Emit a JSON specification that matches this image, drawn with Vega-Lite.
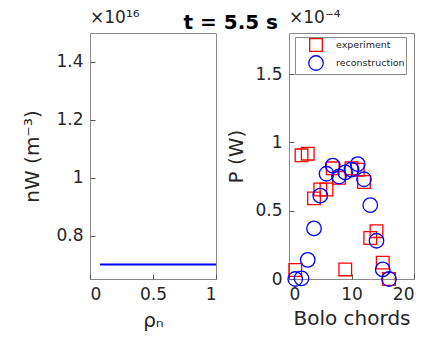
{
  "$schema": "https://vega.github.io/schema/vega-lite/v6.json",
  "background": "white",
  "padding": {"left": 22, "top": 8, "right": 2, "bottom": 5},
  "title": {"text": "t = 5.5 s", "fontSize": 20, "fontWeight": "bold", "font": "DejaVu Sans", "color": "black", "anchor": "middle", "offset": 0, "dy": 24, "dx": 12},
  "spacing": 5,
  "config": {
    "font": "DejaVu Sans",
    "view": {"stroke": "#8a8a8a", "strokeWidth": 1},
    "axis": {
      "grid": false,
      "domain": false,
      "ticks": true,
      "tickSize": -5,
      "tickColor": "#555",
      "labelFont": "DejaVu Sans",
      "labelFontSize": 17,
      "labelColor": "#262626",
      "labelPadding": 12,
      "titleFont": "DejaVu Sans",
      "titleFontSize": 20,
      "titleFontWeight": "normal",
      "titleColor": "#262626"
    },
    "title": {"font": "DejaVu Sans"}
  },
  "hconcat": [
    {
      "width": 126,
      "height": 246,
      "title": {"text": "×10¹⁶", "anchor": "start", "frame": "group", "fontSize": 17, "fontWeight": "normal", "color": "#262626", "offset": 6},
      "data": {"values": [
        {"rho": 0.08, "nW": 0.7},
        {"rho": 0.2, "nW": 0.7},
        {"rho": 0.4, "nW": 0.7},
        {"rho": 0.6, "nW": 0.7},
        {"rho": 0.8, "nW": 0.7},
        {"rho": 1.0, "nW": 0.7}
      ]},
      "mark": {"type": "line", "color": "#0000ff", "strokeWidth": 2},
      "encoding": {
        "x": {"field": "rho", "type": "quantitative", "scale": {"domain": [0, 1], "nice": false},
              "axis": {"values": [0, 0.5, 1], "format": "~g", "title": "ρₙ", "titlePadding": 8}},
        "y": {"field": "nW", "type": "quantitative", "scale": {"domain": [0.65, 1.5], "nice": false, "zero": false},
              "axis": {"values": [0.8, 1, 1.2, 1.4], "format": "~g", "title": "nW (m⁻³)", "titlePadding": 13}}
      }
    },
    {
      "width": 125,
      "height": 246,
      "title": {"text": "×10⁻⁴", "anchor": "start", "frame": "group", "fontSize": 17, "fontWeight": "normal", "color": "#262626", "offset": 6},
      "data": {"values": [
        {"chord": 1, "P": 0.066, "series": "experiment"},
        {"chord": 2, "P": 0.905, "series": "experiment"},
        {"chord": 3, "P": 0.917, "series": "experiment"},
        {"chord": 4, "P": 0.59, "series": "experiment"},
        {"chord": 5, "P": 0.655, "series": "experiment"},
        {"chord": 6, "P": 0.655, "series": "experiment"},
        {"chord": 7, "P": 0.81, "series": "experiment"},
        {"chord": 8, "P": 0.74, "series": "experiment"},
        {"chord": 9, "P": 0.07, "series": "experiment"},
        {"chord": 10, "P": 0.81, "series": "experiment"},
        {"chord": 11, "P": 0.80, "series": "experiment"},
        {"chord": 12, "P": 0.71, "series": "experiment"},
        {"chord": 13, "P": 0.30, "series": "experiment"},
        {"chord": 14, "P": 0.35, "series": "experiment"},
        {"chord": 15, "P": 0.12, "series": "experiment"},
        {"chord": 16, "P": 0.0, "series": "experiment"},
        {"chord": 1, "P": 0.0, "series": "reconstruction"},
        {"chord": 2, "P": 0.005, "series": "reconstruction"},
        {"chord": 3, "P": 0.14, "series": "reconstruction"},
        {"chord": 4, "P": 0.37, "series": "reconstruction"},
        {"chord": 5, "P": 0.61, "series": "reconstruction"},
        {"chord": 6, "P": 0.77, "series": "reconstruction"},
        {"chord": 7, "P": 0.83, "series": "reconstruction"},
        {"chord": 8, "P": 0.75, "series": "reconstruction"},
        {"chord": 9, "P": 0.78, "series": "reconstruction"},
        {"chord": 10, "P": 0.80, "series": "reconstruction"},
        {"chord": 11, "P": 0.84, "series": "reconstruction"},
        {"chord": 12, "P": 0.73, "series": "reconstruction"},
        {"chord": 13, "P": 0.54, "series": "reconstruction"},
        {"chord": 14, "P": 0.28, "series": "reconstruction"},
        {"chord": 15, "P": 0.07, "series": "reconstruction"},
        {"chord": 16, "P": 0.0, "series": "reconstruction"}
      ]},
      "mark": {"type": "point", "filled": false, "strokeWidth": 1.3, "opacity": 1},
      "encoding": {
        "x": {"field": "chord", "type": "quantitative", "scale": {"domain": [0, 20], "nice": false},
              "axis": {"values": [0, 10, 20], "title": "Bolo chords", "titlePadding": 6}},
        "y": {"field": "P", "type": "quantitative", "scale": {"domain": [0, 1.8], "nice": false},
              "axis": {"values": [0, 0.5, 1, 1.5], "format": "~g", "title": "P (W)", "titlePadding": 8}},
        "color": {"field": "series", "type": "nominal",
                  "scale": {"domain": ["experiment", "reconstruction"], "range": ["#ff0000", "#0000ff"]},
                  "legend": {"title": null, "orient": "none", "legendX": 205, "legendY": 4,
                             "fillColor": "white", "strokeColor": "#8a8a8a", "padding": 1,
                             "labelFontSize": 9.5, "labelColor": "#262626", "labelOffset": 12,
                             "symbolOffset": 12, "rowPadding": -1, "symbolSize": 170, "symbolStrokeWidth": 1.3}},
        "shape": {"field": "series", "type": "nominal",
                  "scale": {"domain": ["experiment", "reconstruction"], "range": ["square", "circle"]}},
        "size": {"field": "series", "type": "nominal",
                 "scale": {"domain": ["experiment", "reconstruction"], "range": [160, 210]}, "legend": null},
        "order": {"field": "series"}
      }
    }
  ]
}
